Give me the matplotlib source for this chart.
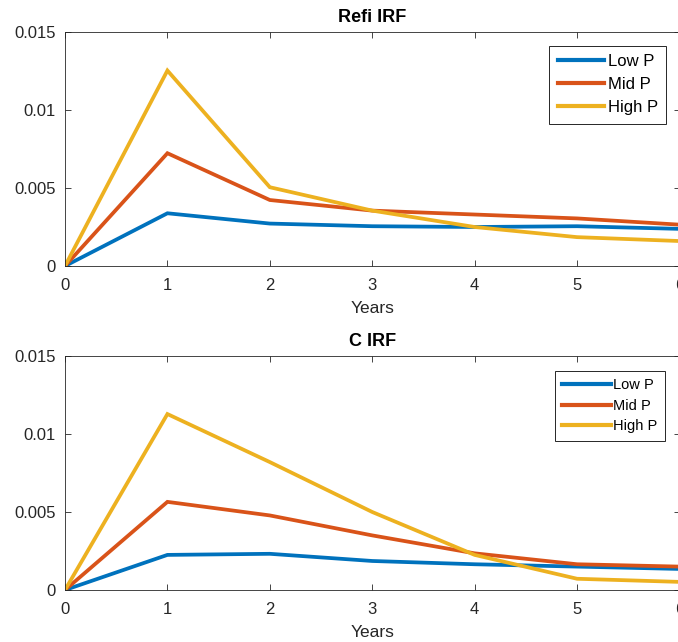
import matplotlib
matplotlib.use("Agg")
import matplotlib.pyplot as plt

plt.rcParams['font.family'] = ['Liberation Sans', 'DejaVu Sans']

years = [0, 1, 2, 3, 4, 5, 6]
labels = ["Low P", "Mid P", "High P"]
colors = ["#0072BD", "#D95319", "#EDB120"]

# Refi IRF
refi_low = [0, 0.00338, 0.00272, 0.00255, 0.00250, 0.00255, 0.00238]
refi_mid = [0, 0.00723, 0.00423, 0.00355, 0.00330, 0.00305, 0.00265]
refi_high = [0, 0.01253, 0.00505, 0.00355, 0.00250, 0.00185, 0.00160]

# C IRF
c_low = [0, 0.00225, 0.00232, 0.00186, 0.00165, 0.00150, 0.00135]
c_mid = [0, 0.00565, 0.00478, 0.00350, 0.00235, 0.00165, 0.00150]
c_high = [0, 0.01128, 0.00820, 0.00500, 0.00225, 0.00072, 0.00052]

yticks = [0, 0.005, 0.01, 0.015]
yticklabels = ["0", "0.005", "0.01", "0.015"]

W, H = 678, 642
fig = plt.figure(figsize=(W / 100, H / 100), dpi=100)

axcol = "#262626"


def panel(rect, series, title, leg_anchor, leg_size, handle_len, spacing):
    ax = fig.add_axes(rect)
    for ys, lab, c in zip(series, labels, colors):
        ax.plot(years, ys, color=c, lw=2.7, label=lab, solid_joinstyle="miter")
    ax.set_xlim(0, 6)
    ax.set_ylim(0, 0.015)
    ax.set_xticks(years)
    ax.set_yticks(yticks)
    ax.set_yticklabels(yticklabels)
    ax.tick_params(direction="in", top=True, right=True, length=4.5, width=0.6,
                   colors=axcol, labelsize=12)
    ax.tick_params(axis="x", pad=8.5)
    ax.tick_params(axis="y", pad=6.5)
    for s in ax.spines.values():
        s.set_color(axcol)
        s.set_linewidth(0.6)
    ax.set_title(title, fontsize=13, fontweight="bold", pad=7)
    ax.set_xlabel("Years", fontsize=12.5, color=axcol, labelpad=6)
    leg = ax.legend(loc="upper right", bbox_to_anchor=leg_anchor,
                    bbox_transform=fig.transFigure, borderaxespad=0,
                    fancybox=False, framealpha=1, edgecolor=axcol,
                    fontsize=leg_size, handlelength=handle_len,
                    handletextpad=0.2, labelspacing=spacing, borderpad=0.5)
    leg.get_frame().set_linewidth(0.7)
    for ln in leg.get_lines():
        ln.set_linewidth(3)
    return ax


x0 = 65 / W
w = (679.5 - 65) / W
h = 234 / H

panel([x0, 1 - 266 / H, w, h], [refi_low, refi_mid, refi_high], "Refi IRF",
      (666 / W, 1 - 46 / H), 12, 2.8, 0.48)
panel([x0, 1 - 590 / H, w, h], [c_low, c_mid, c_high], "C IRF",
      (665 / W, 1 - 371 / H), 10.5, 3.3, 0.45)

fig.savefig("out.png", dpi=100)
plt.close(fig)
